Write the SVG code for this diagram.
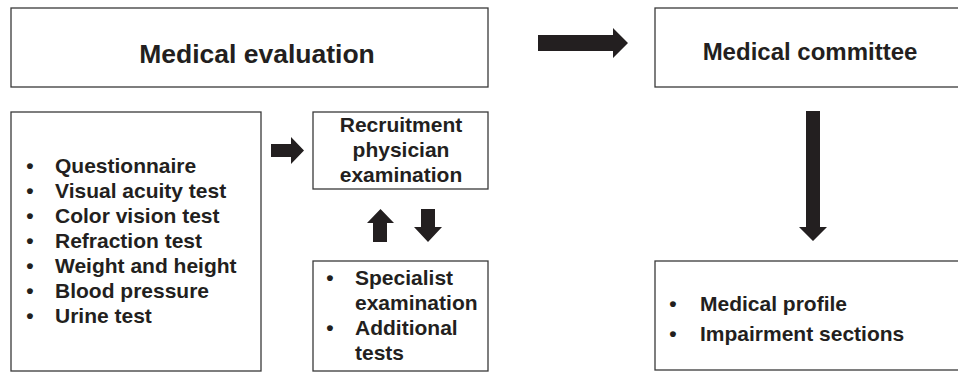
<svg xmlns="http://www.w3.org/2000/svg" width="958" height="373" viewBox="0 0 958 373">
<style>
.box{fill:#fff;stroke:#3a3a3a;stroke-width:1.3}
.t{font-family:"Liberation Sans",Arial,Helvetica,sans-serif;font-weight:bold;fill:#231f20}
.h1{font-size:26.5px}
.h2{font-size:24px}
.s{font-size:21px}
.arr{fill:#231f20}
</style>
<rect width="958" height="373" fill="#fff"/>
<g id="medical-evaluation">
<rect class="box" x="11" y="8" width="477" height="79"/>
<text class="t h1" x="257" y="63" text-anchor="middle">Medical evaluation</text>
</g>
<g id="medical-committee">
<rect class="box" x="655" y="8" width="320" height="79"/>
<text class="t h2" x="810" y="60" text-anchor="middle">Medical committee</text>
</g>
<g id="tests-list">
<rect class="box" x="11" y="112" width="250" height="259"/>
<g class="t s">
<text x="30" y="173" text-anchor="middle">•</text><text x="55" y="173">Questionnaire</text>
<text x="30" y="198" text-anchor="middle">•</text><text x="55" y="198">Visual acuity test</text>
<text x="30" y="223" text-anchor="middle">•</text><text x="55" y="223">Color vision test</text>
<text x="30" y="248" text-anchor="middle">•</text><text x="55" y="248">Refraction test</text>
<text x="30" y="273" text-anchor="middle">•</text><text x="55" y="273">Weight and height</text>
<text x="30" y="298" text-anchor="middle">•</text><text x="55" y="298">Blood pressure</text>
<text x="30" y="323" text-anchor="middle">•</text><text x="55" y="323">Urine test</text>
</g>
</g>
<g id="recruitment-physician">
<rect class="box" x="313" y="112" width="175" height="77"/>
<g class="t s" text-anchor="middle">
<text x="401" y="132">Recruitment</text>
<text x="401" y="157">physician</text>
<text x="401" y="182">examination</text>
</g>
</g>
<g id="specialist">
<rect class="box" x="313" y="261" width="175" height="110"/>
<g class="t s">
<text x="330" y="285" text-anchor="middle">•</text><text x="355" y="285">Specialist</text>
<text x="355" y="310">examination</text>
<text x="330" y="335" text-anchor="middle">•</text><text x="355" y="335">Additional</text>
<text x="355" y="360">tests</text>
</g>
</g>
<g id="profile">
<rect class="box" x="655" y="261" width="320" height="109"/>
<g class="t s">
<text x="673" y="311" text-anchor="middle">•</text><text x="700" y="311">Medical profile</text>
<text x="673" y="341" text-anchor="middle">•</text><text x="700" y="341">Impairment sections</text>
</g>
</g>
<g id="connectors">
<polygon class="arr" points="538,35 613,35 613,28 628,43 613,58 613,51 538,51"/>
<polygon class="arr" points="271,144 291,144 291,137 304,150.5 291,164 291,157 271,157"/>
<polygon class="arr" points="373,242 373,223 367,223 380.5,209 394,223 387,223 387,242"/>
<polygon class="arr" points="421,209 435,209 435,227 442,227 428,242 414,227 421,227"/>
<polygon class="arr" points="806,111 820,111 820,227 827,227 813,241 799,227 806,227"/>
</g>
</svg>
